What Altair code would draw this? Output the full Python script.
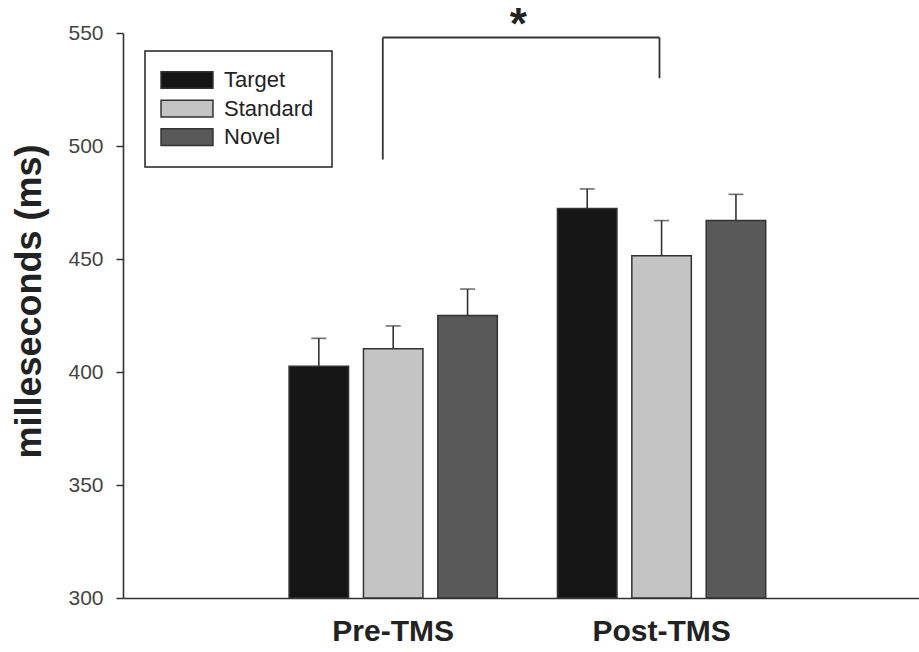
import altair as alt
import pandas as pd

# Mean reaction times (ms) and standard errors per stimulus type
phases = ["Pre-TMS", "Post-TMS"]
conditions = ["Target", "Standard", "Novel"]
pre_means = [402.5, 410.3, 425.0]
pre_se = [12.4, 10.1, 11.7]
post_means = [472.4, 451.4, 467.0]
post_se = [8.6, 15.6, 11.6]
bar_colors = ["#151515", "#c4c4c4", "#595959"]
y_ticks = [300, 350, 400, 450, 500, 550]
y_floor = 300

# Significance bracket between the two sessions
sig_from = ["Pre-TMS"]
sig_to = ["Post-TMS"]
sig_top = [548]
sig_left_end = [494]
sig_right_end = [530]
sig_star_y = [547.5]
sig_label = ["*"]

rows = []
for phase, means, ses in [("Pre-TMS", pre_means, pre_se), ("Post-TMS", post_means, post_se)]:
    for cond, m, s in zip(conditions, means, ses):
        rows.append({"phase": phase, "cond": cond, "mean": m, "upper": m + s})
df = pd.DataFrame(rows)

sig = pd.DataFrame({
    "from": sig_from, "to": sig_to, "top": sig_top,
    "left_end": sig_left_end, "right_end": sig_right_end,
    "star_y": sig_star_y, "label": sig_label,
})

FONT = "Liberation Sans"
INK = "#333333"

x_scale = alt.Scale(domain=phases, paddingInner=0.224, paddingOuter=0.595, align=0.52)
y_scale = alt.Scale(domain=[300, 550], zero=False, nice=False)
off_scale = alt.Scale(domain=conditions, paddingInner=0.2, paddingOuter=0)

x_enc = alt.X(
    "phase:N", sort=phases, scale=x_scale,
    axis=alt.Axis(
        title=None, ticks=False, tickSize=0, labelAngle=0,
        labelFont=FONT, labelFontSize=30, labelFontWeight="bold",
        labelColor="#222222", labelPadding=18,
        domainColor=INK, domainWidth=1.6,
    ),
)
off_enc = alt.XOffset("cond:N", sort=conditions, scale=off_scale)

bars = alt.Chart(df).mark_bar(stroke=INK, strokeWidth=1.5).encode(
    x=x_enc,
    xOffset=off_enc,
    y=alt.Y(
        "mean:Q", scale=y_scale,
        axis=alt.Axis(
            values=y_ticks, grid=False,
            tickSize=7, tickWidth=1.5, tickColor=INK,
            domainColor=INK, domainWidth=1.6,
            labelFont=FONT, labelFontSize=21, labelColor="#444444", labelPadding=13,
            title="milleseconds (ms)", titleFont=FONT, titleFontSize=36,
            titleFontWeight="bold", titleColor="#222222",
            titleAngle=270, titleAlign="center", titleBaseline="alphabetic",
            titleX=-83, titleY=268,
        ),
    ),
    y2=alt.datum(y_floor),
    color=alt.Color(
        "cond:N", sort=conditions,
        scale=alt.Scale(domain=conditions, range=bar_colors),
        legend=alt.Legend(
            title=None, orient="none", legendX=22, legendY=18,
            symbolType="M-3.11,-1L3.11,-1L3.11,1L-3.11,1Z",
            symbolSize=279, symbolOffset=13,
            symbolStrokeColor=INK, symbolStrokeWidth=1.5, symbolOpacity=1,
            labelFont=FONT, labelFontSize=22, labelColor="#222222",
            labelOffset=26, rowPadding=4.6, padding=18,
            strokeColor="#222222",
        ),
    ),
)

err = alt.Chart(df).mark_rule(color=INK, strokeWidth=1.6).encode(
    x=alt.X("phase:N", sort=phases, scale=x_scale),
    xOffset=off_enc,
    y=alt.Y("mean:Q", scale=y_scale),
    y2="upper:Q",
)

caps = alt.Chart(df).mark_tick(color=INK, thickness=1.6, size=15).encode(
    x=alt.X("phase:N", sort=phases, scale=x_scale),
    xOffset=off_enc,
    y=alt.Y("upper:Q", scale=y_scale),
)

bracket_top = alt.Chart(sig).mark_rule(color=INK, strokeWidth=1.8).encode(
    x=alt.X("from:N", scale=x_scale, bandPosition=0.45),
    x2=alt.X2("to:N", bandPosition=0.49),
    y=alt.Y("top:Q", scale=y_scale),
)
bracket_left = alt.Chart(sig).mark_rule(color=INK, strokeWidth=1.8).encode(
    x=alt.X("from:N", scale=x_scale, bandPosition=0.45),
    y=alt.Y("top:Q", scale=y_scale),
    y2="left_end:Q",
)
bracket_right = alt.Chart(sig).mark_rule(color=INK, strokeWidth=1.8).encode(
    x=alt.X("to:N", scale=x_scale, bandPosition=0.49),
    y=alt.Y("top:Q", scale=y_scale),
    y2="right_end:Q",
)
star = alt.Chart(sig).mark_text(
    font=FONT, fontSize=44, fontWeight="bold", color="#222222",
    align="center", baseline="alphabetic", dx=21,
).encode(
    x=alt.X("from:N", scale=x_scale, bandPosition=1),
    y=alt.Y("star_y:Q", scale=y_scale),
    text="label:N",
)

chart = alt.layer(
    bars, err, caps, bracket_top, bracket_left, bracket_right, star
).properties(
    width=796, height=565,
    autosize=alt.AutoSizeParams(type="none"),
    padding={"left": 123, "top": 33, "right": 0, "bottom": 54},
    background="white",
).configure_view(stroke=None).configure_legend(strokeWidth=1.5)

chart.save("out.html", embed_options={"renderer": "svg", "actions": False})
